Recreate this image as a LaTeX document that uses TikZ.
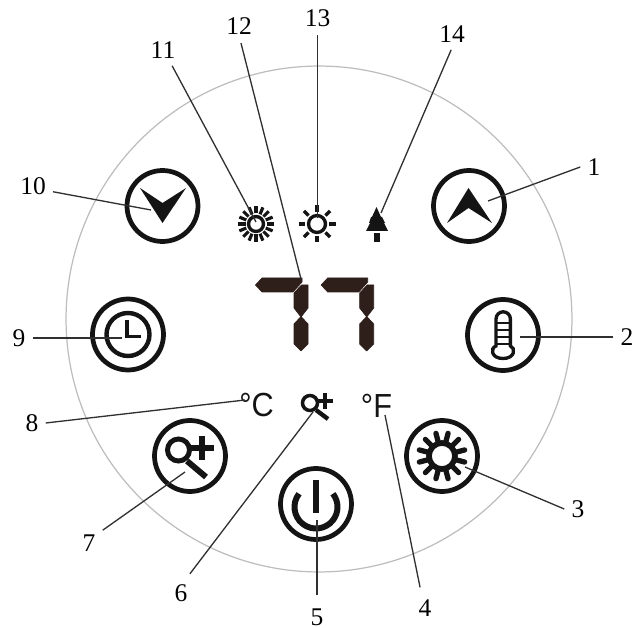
\documentclass[tikz,border=0pt]{standalone}
\usepackage{fontspec}
\setmainfont{Liberation Serif}
\newfontfamily\symfont{Liberation Sans}
\definecolor{seg}{HTML}{2E1F1A}
\definecolor{ink}{HTML}{141414}
\definecolor{lead}{HTML}{303030}
\definecolor{rim}{HTML}{BDBDBD}
\tikzset{
  btn/.style={circle,draw=ink,line width=2.7pt,minimum size=1.42cm,inner sep=0pt},
  num/.style={font=\fontsize{14.5}{16}\selectfont,inner sep=4pt,text=black},
  leadline/.style={draw=lead,line width=0.75pt},
  icon/.style={draw=ink,line width=2.5pt},
  thin icon/.style={draw=ink,line width=1.9pt},
  solid icon/.style={fill=ink,draw=none},
  segment/.style={fill=seg,draw=seg,line width=0.4pt,line join=round},
  unit sign/.style={font=\symfont\fontsize{19}{20}\selectfont,text=ink,inner sep=0pt,xscale=0.92},
}
\begin{document}
\begin{tikzpicture}[x=0.02cm,y=0.02cm]
\useasboundingbox (0,0) rectangle (636,-628);
% outer ring
\node[circle,draw=rim,line width=0.7pt,minimum size=10.12cm,inner sep=0pt] (rimc) at (319,-319) {};
% buttons
\node[btn] (bdown) at (162.5,-206) {};
\node[btn] (bclock) at (128,-334.5) {};
\node[btn] (bup) at (469,-206) {};
\node[btn] (btherm) at (503,-335) {};
\node[btn] (bsun) at (442,-456) {};
\node[btn] (bpower) at (316,-504) {};
\node[btn] (bzoom) at (190,-456) {};
% chevrons
\fill[solid icon] (162.5,-223) -- (140,-188) -- (162.5,-203) -- (186,-188) -- cycle;
\fill[solid icon] (468.5,-188) -- (447,-223) -- (468.5,-208) -- (492,-223) -- cycle;
% clock
\draw[icon] (128,-334.5) circle (21.5);
\draw[icon,line width=2.2pt] (127,-320) -- (127,-336.5) -- (141,-336.5);
% thermometer
\draw[thin icon] (496,-346) -- (496,-319) arc (180:0:7.2) -- (510.4,-346)
  .. controls (516,-348) and (515,-358.5) .. (503,-358.5)
  .. controls (491,-358.5) and (490,-348) .. (496,-346) -- cycle;
\foreach \yy in {323,330,337,344} \draw[thin icon,line width=1.7pt] (496,-\yy) -- (510.4,-\yy);
% gear sun
\draw[icon,line width=3.2pt] (442,-456) circle (13);
\foreach \a in {15,45,...,345}
  \draw[ink,line width=3pt,line cap=round] (442,-456) +(\a:14) -- +(\a:23.5);
% power
\draw[ink,line width=3.4pt] (316,-480) -- (316,-513);
\draw[ink,line width=3.4pt] (316,-507) ++(142:21.5) arc (142:398:21.5);
% zoom big
\draw[icon,line width=2.8pt] (178.5,-450) circle (11);
\draw[ink,line width=3.3pt] (190,-448) -- (214,-448) (202,-436) -- (202,-460);
\draw[ink,line width=3.4pt] (187,-461) -- (206,-477);
% small sun 11
\draw[thin icon] (256,-224) circle (7.5);
\foreach \a in {0,22.5,...,337.5}
  \draw[ink,line width=1.8pt] (256,-224) +(\a:10.5) -- +(\a:18);
% small sun 13
\draw[thin icon] (317,-224) circle (8.5);
\foreach \a in {0,45,...,315}
  \draw[ink,line width=1.9pt] (317,-224) +(\a:12) -- +(\a:18.5);
% tree
\fill[solid icon] (376.5,-207) -- (372,-217) -- (371,-217) -- (369,-223) -- (370,-223) -- (366,-231) -- (388,-231) -- (384,-223) -- (385,-223) -- (382,-217) -- (381,-217) -- cycle;
\fill[solid icon] (374,-233) rectangle (380,-242);
% seven segments
\foreach \dx in {0,65.7}{
  \begin{scope}[xshift=\dx*0.02cm]
  \fill[segment] (255.5,-285) -- (262,-278) -- (302,-278) -- (302,-282) -- (293,-292) -- (262,-292) -- cycle;
  \fill[segment] (308,-285) -- (301.5,-285) -- (294,-293) -- (294,-308) -- (301,-317) -- (308,-308) -- cycle;
  \fill[segment] (301,-316.5) -- (308,-324) -- (308,-344) -- (301,-351) -- (294,-344) -- (294,-324) -- cycle;
  \end{scope}
}
% unit signs and small zoom
\node[unit sign] (cel) at (256.5,-405.5) {°C};
\node[unit sign] (fah) at (376.5,-405.5) {°F};
\draw[thin icon,line width=2pt] (310,-403) circle (7.5);
\draw[ink,line width=2.3pt] (317,-401) -- (333,-401) (325,-393) -- (325,-409);
\draw[ink,line width=2.5pt] (316,-410) -- (328,-419);
% connector ends
\coordinate (e1) at (488,-201);
\coordinate (e2) at (520,-337);
\coordinate (e3) at (465,-467);
\coordinate (e4) at (385,-415);
\coordinate (e5) at (317,-520);
\coordinate (e6) at (313,-412);
\coordinate (e7) at (185,-472);
\coordinate (e8) at (245,-400);
\coordinate (e9) at (122,-338);
\coordinate (e10) at (151,-210);
\coordinate (e11) at (256,-222);
\coordinate (e12) at (301,-279);
\coordinate (e13) at (317.5,-218);
\coordinate (e14) at (381,-213);
% labels
\node[num] (l1) at (594,-167) {1};
\node[num] (l2) at (627,-337) {2};
\node[num] (l3) at (578,-509) {3};
\node[num] (l4) at (425,-608) {4};
\node[num] (l5) at (317,-617) {5};
\node[num] (l6) at (181,-593) {6};
\node[num] (l7) at (89,-543) {7};
\node[num] (l8) at (32,-423) {8};
\node[num] (l9) at (19,-338) {9};
\node[num] (l10) at (33,-186) {10};
\node[num] (l11) at (163,-50) {11};
\node[num] (l12) at (239,-26) {12};
\node[num] (l13) at (317.5,-18) {13};
\node[num] (l14) at (452,-34) {14};
\foreach \i/\an/\sh in {1/180/0,2/180/0,3/180/0,4/104/2.8,5/90/3.6,6/68/2.3,7/43/0,8/0/0,9/0/0,10/-16/0,11/-60/0,12/-84/0.8,13/-90/0.8,14/-93/0}
  \draw[leadline,shorten <=\sh pt] (l\i.\an) -- (e\i);
\end{tikzpicture}
\end{document}
